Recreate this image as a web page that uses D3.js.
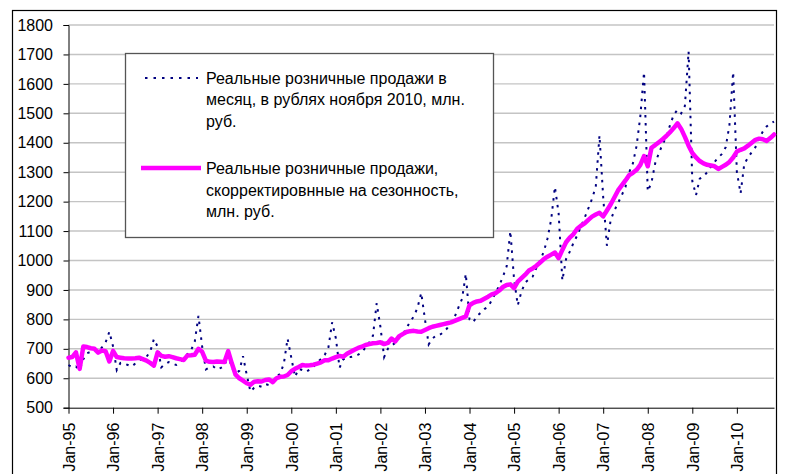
<!DOCTYPE html>
<html>
<head>
<meta charset="utf-8">
<script src="https://cdn.jsdelivr.net/npm/d3@7"></script>
<style>
  html, body { margin: 0; padding: 0; background: #fff; }
  svg { display: block; }
  text { font-family: "Liberation Sans", Arial, sans-serif; fill: #000; }
</style>
</head>
<body>
<svg id="chart" width="791" height="474"></svg>
<script>
// ---- Data (Jan-95 .. Nov-10, monthly) ----
const tickLabels = ["Jan-95","Jan-96","Jan-97","Jan-98","Jan-99","Jan-00","Jan-01","Jan-02",
                    "Jan-03","Jan-04","Jan-05","Jan-06","Jan-07","Jan-08","Jan-09","Jan-10"];
const yTicks = [500,600,700,800,900,1000,1100,1200,1300,1400,1500,1600,1700,1800];

const rawSales = [
  645, 637, 640, 628, 665, 685, 690, 695, 690, 705, 722, 758,        // 1995
  708, 628, 652, 650, 645, 640, 650, 660, 668, 673, 690, 733,        // 1996
  707, 637, 648, 655, 650, 645, 652, 668, 682, 695, 724, 812,        // 1997
  707, 630, 637, 640, 630, 635, 642, 680, 635, 617, 625, 675,        // 1998
  612, 555, 568, 575, 571, 580, 577, 590, 605, 615, 650, 735,        // 1999
  670, 605, 632, 628, 622, 630, 639, 655, 665, 679, 705, 790,        // 2000
  736, 636, 664, 672, 672, 675, 680, 688, 705, 722, 745, 855,        // 2001
  775, 672, 700, 711, 720, 736, 748, 770, 792, 810, 840, 890,        // 2002
  800, 715, 735, 745, 748, 756, 770, 790, 808, 840, 870, 955,        // 2003
  800, 790, 812, 822, 835, 843, 865, 890, 915, 945, 980, 1100,       // 2004
  935, 848, 895, 925, 936, 945, 975, 1000, 1030, 1075, 1140, 1250,   // 2005
  1160, 932, 1005, 1030, 1060, 1085, 1115, 1145, 1177, 1210, 1250, 1425, // 2006
  1215, 1050, 1137, 1170, 1195, 1222, 1250, 1300, 1330, 1390, 1490, 1640, // 2007
  1235, 1265, 1330, 1365, 1395, 1420, 1460, 1495, 1512, 1500, 1525, 1710, // 2008
  1270, 1222, 1278, 1285, 1300, 1318, 1335, 1350, 1362, 1385, 1460, 1640, // 2009
  1300, 1228, 1328, 1350, 1368, 1385, 1415, 1438, 1455, 1465, 1472        // 2010
];

const saSales = [
  670, 672, 688, 632, 708, 706, 702, 700, 687, 694, 692, 657,        // 1995
  693, 672, 670, 668, 667, 667, 668, 670, 665, 660, 652, 643,        // 1996
  688, 676, 673, 675, 672, 668, 665, 662, 677, 678, 680, 700,        // 1997
  690, 660, 656, 655, 657, 656, 655, 692, 650, 612, 600, 592,        // 1998
  583, 578, 588, 590, 589, 594, 596, 587, 600, 605, 606, 611,        // 1999
  624, 632, 638, 645, 643, 644, 646, 650, 654, 661, 661, 667,        // 2000
  672, 676, 673, 683, 690, 697, 703, 707, 713, 716, 719, 720,        // 2001
  722, 716, 720, 735, 725, 742, 750, 757, 760, 761, 759, 758,        // 2002
  764, 770, 775, 778, 781, 784, 787, 790, 795, 800, 805, 810,        // 2003
  848, 856, 861, 863, 870, 877, 885, 889, 898, 910, 917, 919,        // 2004
  906, 928, 940, 952, 966, 973, 982, 993, 1005, 1013, 1020, 1027,    // 2005
  1008, 1036, 1062, 1078, 1090, 1108, 1118, 1126, 1138, 1149, 1156, 1162, // 2006
  1150, 1170, 1190, 1214, 1238, 1255, 1272, 1290, 1298, 1308, 1325, 1355, // 2007
  1320, 1383, 1392, 1402, 1412, 1423, 1436, 1450, 1466, 1447, 1420, 1390, // 2008
  1365, 1350, 1338, 1330, 1325, 1323, 1320, 1311, 1318, 1325, 1335, 1350, // 2009
  1370, 1376, 1381, 1390, 1400, 1410, 1414, 1412, 1406, 1416, 1428        // 2010
];

const legendRaw = ["Реальные розничные продажи в", "месяц, в рублях ноября 2010, млн.", "руб."];
const legendSA  = ["Реальные розничные продажи,", "скорректировнные на сезонность,", "млн. руб."];

// ---- Drawing ----
const svg = d3.select("#chart");
const plotL = 68.5, plotR = 774, plotT = 25, plotB = 407.7;

const x = d3.scaleLinear().domain([0, rawSales.length - 1]).range([plotL, plotR]);
const y = d3.scaleLinear().domain([500, 1800]).range([plotB, plotT]);

// outer chart border
svg.append("rect").attr("x", 12.5).attr("y", 10.5).attr("width", 764).attr("height", 470)
  .attr("fill", "#fff").attr("stroke", "#000").attr("stroke-width", 1.2);

// gridlines
svg.append("g").selectAll("line").data(yTicks.filter(d => d > 500)).join("line")
  .attr("x1", plotL).attr("x2", plotR)
  .attr("y1", d => y(d)).attr("y2", d => y(d))
  .attr("stroke", "#c4c4c4").attr("stroke-width", 1.4);

// Y axis
const yAxis = svg.append("g").attr("transform", `translate(${plotL},0)`)
  .call(d3.axisLeft(y).tickValues(yTicks).tickSize(5).tickPadding(10.5).tickFormat(d3.format("d")));
yAxis.selectAll("text").style("font-size", "16px").style("font-family", "'Liberation Sans', Arial, sans-serif");
yAxis.selectAll("line, path").attr("stroke", "#000");

// X axis
const xTickIdx = tickLabels.map((_, i) => i * 12);
const xAxis = svg.append("g").attr("transform", `translate(0,${plotB})`)
  .call(d3.axisBottom(x).tickValues(xTickIdx).tickSize(6).tickSizeOuter(0)
    .tickFormat((d, i) => tickLabels[i]));
xAxis.selectAll("line, path").attr("stroke", "#000");
xAxis.selectAll("text")
  .attr("x", -15).attr("y", 0).attr("dy", "0.36em")
  .attr("transform", "rotate(-90)")
  .style("text-anchor", "end")
  .style("font-size", "16px").style("font-family", "'Liberation Sans', Arial, sans-serif");

// series
const line = d3.line().x((d, i) => x(i)).y(d => y(d));
svg.append("path").datum(rawSales).attr("d", line)
  .attr("fill", "none").attr("stroke", "#000080").attr("stroke-width", 2)
  .attr("stroke-dasharray", "2.5,5.5");
svg.append("path").datum(saSales).attr("d", line)
  .attr("fill", "none").attr("stroke", "#ff00ff").attr("stroke-width", 4.5)
  .attr("stroke-linejoin", "round").attr("stroke-linecap", "round");

// legend
const lg = svg.append("g");
lg.append("rect").attr("x", 125.5).attr("y", 53.5).attr("width", 368).attr("height", 184)
  .attr("fill", "#fff").attr("stroke", "#555").attr("stroke-width", 1.3);
lg.append("line").attr("x1", 145).attr("x2", 198).attr("y1", 78).attr("y2", 78)
  .attr("stroke", "#000080").attr("stroke-width", 2).attr("stroke-dasharray", "2.5,6");
lg.append("line").attr("x1", 141).attr("x2", 201).attr("y1", 168).attr("y2", 168)
  .attr("stroke", "#ff00ff").attr("stroke-width", 4.5);
const lt = lg.append("g").style("font-size", "16px");
lt.selectAll("text.r").data(legendRaw).join("text").attr("class", "r")
  .attr("x", 206).attr("y", (d, i) => 83.5 + i * 21.6).text(d => d);
lt.selectAll("text.s").data(legendSA).join("text").attr("class", "s")
  .attr("x", 206).attr("y", (d, i) => 174 + i * 21.6).text(d => d);
</script>
</body>
</html>
